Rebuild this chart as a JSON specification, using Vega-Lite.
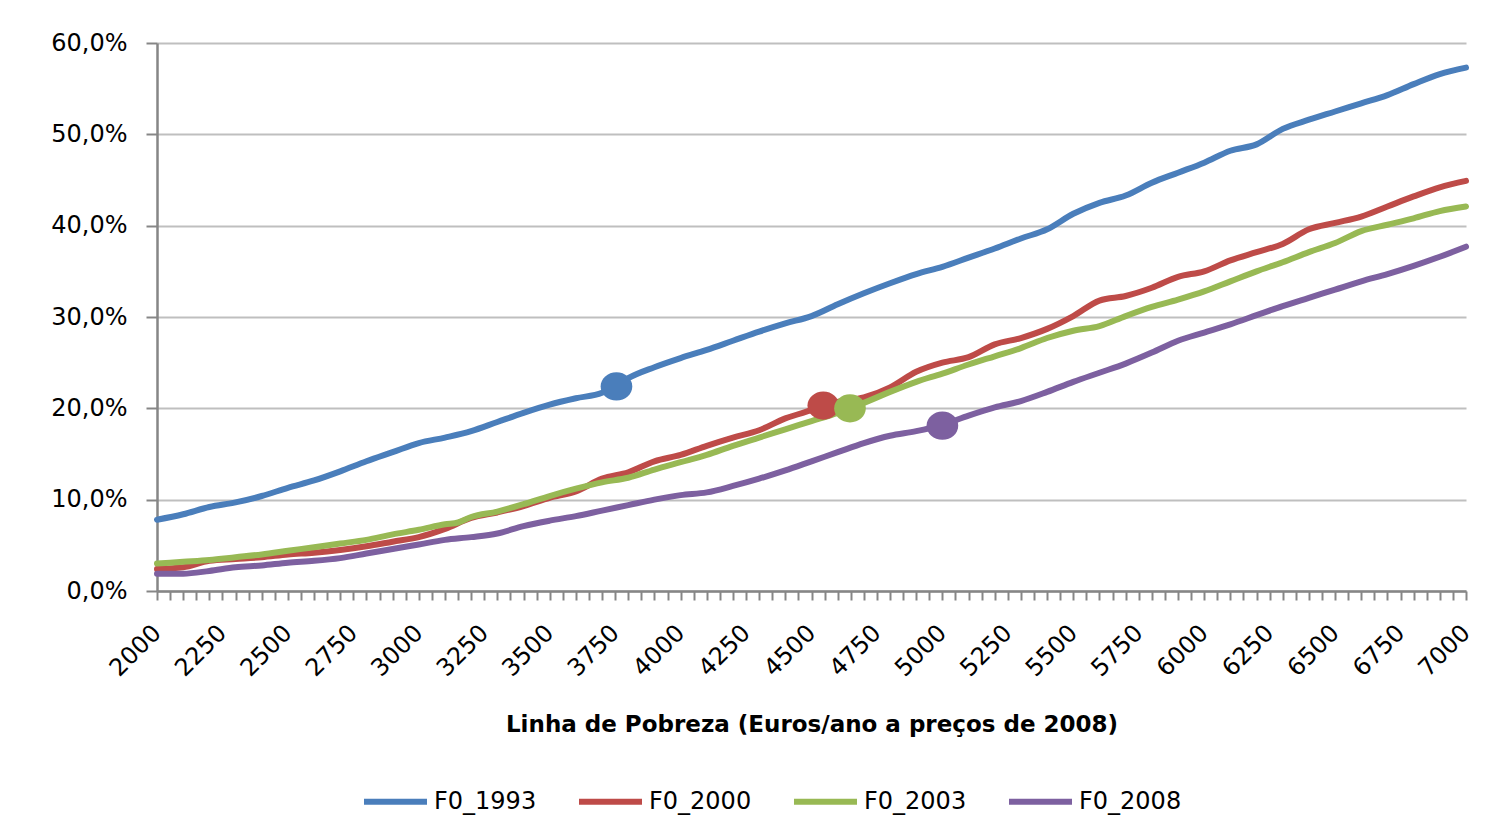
{
  "$schema": "https://vega.github.io/schema/vega-lite/v6.json",
  "width": 1309,
  "height": 548,
  "autosize": "none",
  "padding": {"left": 157, "top": 43, "right": 42, "bottom": 249},
  "background": "white",
  "config": {
    "view": {"stroke": null},
    "font": "DejaVu Sans"
  },
  "datasets": {
    "curvas": [
      {"serie": "F0_1993", "linha": 2000, "taxa": 0.078},
      {"serie": "F0_1993", "linha": 2100, "taxa": 0.084},
      {"serie": "F0_1993", "linha": 2200, "taxa": 0.092},
      {"serie": "F0_1993", "linha": 2300, "taxa": 0.097},
      {"serie": "F0_1993", "linha": 2400, "taxa": 0.104},
      {"serie": "F0_1993", "linha": 2500, "taxa": 0.113},
      {"serie": "F0_1993", "linha": 2600, "taxa": 0.121},
      {"serie": "F0_1993", "linha": 2700, "taxa": 0.131},
      {"serie": "F0_1993", "linha": 2800, "taxa": 0.142},
      {"serie": "F0_1993", "linha": 2900, "taxa": 0.152},
      {"serie": "F0_1993", "linha": 3000, "taxa": 0.162},
      {"serie": "F0_1993", "linha": 3100, "taxa": 0.168},
      {"serie": "F0_1993", "linha": 3200, "taxa": 0.175},
      {"serie": "F0_1993", "linha": 3300, "taxa": 0.185},
      {"serie": "F0_1993", "linha": 3400, "taxa": 0.195},
      {"serie": "F0_1993", "linha": 3500, "taxa": 0.204},
      {"serie": "F0_1993", "linha": 3600, "taxa": 0.211},
      {"serie": "F0_1993", "linha": 3700, "taxa": 0.217},
      {"serie": "F0_1993", "linha": 3750, "taxa": 0.224},
      {"serie": "F0_1993", "linha": 3800, "taxa": 0.233},
      {"serie": "F0_1993", "linha": 3900, "taxa": 0.245},
      {"serie": "F0_1993", "linha": 4000, "taxa": 0.255},
      {"serie": "F0_1993", "linha": 4100, "taxa": 0.264},
      {"serie": "F0_1993", "linha": 4200, "taxa": 0.274},
      {"serie": "F0_1993", "linha": 4300, "taxa": 0.284},
      {"serie": "F0_1993", "linha": 4400, "taxa": 0.293},
      {"serie": "F0_1993", "linha": 4500, "taxa": 0.301},
      {"serie": "F0_1993", "linha": 4600, "taxa": 0.314},
      {"serie": "F0_1993", "linha": 4700, "taxa": 0.326},
      {"serie": "F0_1993", "linha": 4800, "taxa": 0.337},
      {"serie": "F0_1993", "linha": 4900, "taxa": 0.347},
      {"serie": "F0_1993", "linha": 5000, "taxa": 0.355},
      {"serie": "F0_1993", "linha": 5100, "taxa": 0.365},
      {"serie": "F0_1993", "linha": 5200, "taxa": 0.375},
      {"serie": "F0_1993", "linha": 5300, "taxa": 0.386},
      {"serie": "F0_1993", "linha": 5400, "taxa": 0.396},
      {"serie": "F0_1993", "linha": 5500, "taxa": 0.413},
      {"serie": "F0_1993", "linha": 5600, "taxa": 0.425},
      {"serie": "F0_1993", "linha": 5700, "taxa": 0.433},
      {"serie": "F0_1993", "linha": 5800, "taxa": 0.447},
      {"serie": "F0_1993", "linha": 5900, "taxa": 0.458},
      {"serie": "F0_1993", "linha": 6000, "taxa": 0.469},
      {"serie": "F0_1993", "linha": 6100, "taxa": 0.482},
      {"serie": "F0_1993", "linha": 6200, "taxa": 0.489},
      {"serie": "F0_1993", "linha": 6300, "taxa": 0.506},
      {"serie": "F0_1993", "linha": 6400, "taxa": 0.516},
      {"serie": "F0_1993", "linha": 6500, "taxa": 0.525},
      {"serie": "F0_1993", "linha": 6600, "taxa": 0.534},
      {"serie": "F0_1993", "linha": 6700, "taxa": 0.543},
      {"serie": "F0_1993", "linha": 6800, "taxa": 0.555},
      {"serie": "F0_1993", "linha": 6900, "taxa": 0.566},
      {"serie": "F0_1993", "linha": 7000, "taxa": 0.573},

      {"serie": "F0_2000", "linha": 2000, "taxa": 0.024},
      {"serie": "F0_2000", "linha": 2100, "taxa": 0.026},
      {"serie": "F0_2000", "linha": 2200, "taxa": 0.033},
      {"serie": "F0_2000", "linha": 2300, "taxa": 0.035},
      {"serie": "F0_2000", "linha": 2400, "taxa": 0.037},
      {"serie": "F0_2000", "linha": 2500, "taxa": 0.040},
      {"serie": "F0_2000", "linha": 2600, "taxa": 0.042},
      {"serie": "F0_2000", "linha": 2700, "taxa": 0.045},
      {"serie": "F0_2000", "linha": 2800, "taxa": 0.049},
      {"serie": "F0_2000", "linha": 2900, "taxa": 0.054},
      {"serie": "F0_2000", "linha": 3000, "taxa": 0.059},
      {"serie": "F0_2000", "linha": 3100, "taxa": 0.068},
      {"serie": "F0_2000", "linha": 3200, "taxa": 0.080},
      {"serie": "F0_2000", "linha": 3300, "taxa": 0.086},
      {"serie": "F0_2000", "linha": 3400, "taxa": 0.093},
      {"serie": "F0_2000", "linha": 3500, "taxa": 0.102},
      {"serie": "F0_2000", "linha": 3600, "taxa": 0.109},
      {"serie": "F0_2000", "linha": 3700, "taxa": 0.123},
      {"serie": "F0_2000", "linha": 3800, "taxa": 0.130},
      {"serie": "F0_2000", "linha": 3900, "taxa": 0.142},
      {"serie": "F0_2000", "linha": 4000, "taxa": 0.149},
      {"serie": "F0_2000", "linha": 4100, "taxa": 0.159},
      {"serie": "F0_2000", "linha": 4200, "taxa": 0.168},
      {"serie": "F0_2000", "linha": 4300, "taxa": 0.176},
      {"serie": "F0_2000", "linha": 4400, "taxa": 0.189},
      {"serie": "F0_2000", "linha": 4500, "taxa": 0.198},
      {"serie": "F0_2000", "linha": 4600, "taxa": 0.207},
      {"serie": "F0_2000", "linha": 4700, "taxa": 0.212},
      {"serie": "F0_2000", "linha": 4800, "taxa": 0.223},
      {"serie": "F0_2000", "linha": 4900, "taxa": 0.240},
      {"serie": "F0_2000", "linha": 5000, "taxa": 0.250},
      {"serie": "F0_2000", "linha": 5100, "taxa": 0.256},
      {"serie": "F0_2000", "linha": 5200, "taxa": 0.270},
      {"serie": "F0_2000", "linha": 5300, "taxa": 0.277},
      {"serie": "F0_2000", "linha": 5400, "taxa": 0.287},
      {"serie": "F0_2000", "linha": 5500, "taxa": 0.301},
      {"serie": "F0_2000", "linha": 5600, "taxa": 0.318},
      {"serie": "F0_2000", "linha": 5700, "taxa": 0.323},
      {"serie": "F0_2000", "linha": 5800, "taxa": 0.332},
      {"serie": "F0_2000", "linha": 5900, "taxa": 0.344},
      {"serie": "F0_2000", "linha": 6000, "taxa": 0.350},
      {"serie": "F0_2000", "linha": 6100, "taxa": 0.362},
      {"serie": "F0_2000", "linha": 6200, "taxa": 0.371},
      {"serie": "F0_2000", "linha": 6300, "taxa": 0.380},
      {"serie": "F0_2000", "linha": 6400, "taxa": 0.396},
      {"serie": "F0_2000", "linha": 6500, "taxa": 0.403},
      {"serie": "F0_2000", "linha": 6600, "taxa": 0.410},
      {"serie": "F0_2000", "linha": 6700, "taxa": 0.421},
      {"serie": "F0_2000", "linha": 6800, "taxa": 0.432},
      {"serie": "F0_2000", "linha": 6900, "taxa": 0.442},
      {"serie": "F0_2000", "linha": 7000, "taxa": 0.449},

      {"serie": "F0_2003", "linha": 2000, "taxa": 0.030},
      {"serie": "F0_2003", "linha": 2100, "taxa": 0.032},
      {"serie": "F0_2003", "linha": 2200, "taxa": 0.034},
      {"serie": "F0_2003", "linha": 2300, "taxa": 0.037},
      {"serie": "F0_2003", "linha": 2400, "taxa": 0.040},
      {"serie": "F0_2003", "linha": 2500, "taxa": 0.044},
      {"serie": "F0_2003", "linha": 2600, "taxa": 0.048},
      {"serie": "F0_2003", "linha": 2700, "taxa": 0.052},
      {"serie": "F0_2003", "linha": 2800, "taxa": 0.056},
      {"serie": "F0_2003", "linha": 2900, "taxa": 0.062},
      {"serie": "F0_2003", "linha": 3000, "taxa": 0.067},
      {"serie": "F0_2003", "linha": 3100, "taxa": 0.073},
      {"serie": "F0_2003", "linha": 3150, "taxa": 0.075},
      {"serie": "F0_2003", "linha": 3200, "taxa": 0.081},
      {"serie": "F0_2003", "linha": 3300, "taxa": 0.087},
      {"serie": "F0_2003", "linha": 3400, "taxa": 0.095},
      {"serie": "F0_2003", "linha": 3500, "taxa": 0.104},
      {"serie": "F0_2003", "linha": 3600, "taxa": 0.112},
      {"serie": "F0_2003", "linha": 3700, "taxa": 0.119},
      {"serie": "F0_2003", "linha": 3800, "taxa": 0.124},
      {"serie": "F0_2003", "linha": 3900, "taxa": 0.133},
      {"serie": "F0_2003", "linha": 4000, "taxa": 0.141},
      {"serie": "F0_2003", "linha": 4100, "taxa": 0.149},
      {"serie": "F0_2003", "linha": 4200, "taxa": 0.159},
      {"serie": "F0_2003", "linha": 4300, "taxa": 0.168},
      {"serie": "F0_2003", "linha": 4400, "taxa": 0.177},
      {"serie": "F0_2003", "linha": 4500, "taxa": 0.186},
      {"serie": "F0_2003", "linha": 4600, "taxa": 0.195},
      {"serie": "F0_2003", "linha": 4700, "taxa": 0.206},
      {"serie": "F0_2003", "linha": 4800, "taxa": 0.218},
      {"serie": "F0_2003", "linha": 4900, "taxa": 0.229},
      {"serie": "F0_2003", "linha": 5000, "taxa": 0.238},
      {"serie": "F0_2003", "linha": 5100, "taxa": 0.248},
      {"serie": "F0_2003", "linha": 5200, "taxa": 0.257},
      {"serie": "F0_2003", "linha": 5300, "taxa": 0.266},
      {"serie": "F0_2003", "linha": 5400, "taxa": 0.277},
      {"serie": "F0_2003", "linha": 5500, "taxa": 0.285},
      {"serie": "F0_2003", "linha": 5600, "taxa": 0.290},
      {"serie": "F0_2003", "linha": 5700, "taxa": 0.301},
      {"serie": "F0_2003", "linha": 5800, "taxa": 0.311},
      {"serie": "F0_2003", "linha": 5900, "taxa": 0.319},
      {"serie": "F0_2003", "linha": 6000, "taxa": 0.328},
      {"serie": "F0_2003", "linha": 6100, "taxa": 0.339},
      {"serie": "F0_2003", "linha": 6200, "taxa": 0.350},
      {"serie": "F0_2003", "linha": 6300, "taxa": 0.360},
      {"serie": "F0_2003", "linha": 6400, "taxa": 0.371},
      {"serie": "F0_2003", "linha": 6500, "taxa": 0.381},
      {"serie": "F0_2003", "linha": 6600, "taxa": 0.394},
      {"serie": "F0_2003", "linha": 6700, "taxa": 0.401},
      {"serie": "F0_2003", "linha": 6800, "taxa": 0.408},
      {"serie": "F0_2003", "linha": 6900, "taxa": 0.416},
      {"serie": "F0_2003", "linha": 7000, "taxa": 0.421},

      {"serie": "F0_2008", "linha": 2000, "taxa": 0.019},
      {"serie": "F0_2008", "linha": 2100, "taxa": 0.019},
      {"serie": "F0_2008", "linha": 2200, "taxa": 0.022},
      {"serie": "F0_2008", "linha": 2300, "taxa": 0.026},
      {"serie": "F0_2008", "linha": 2400, "taxa": 0.028},
      {"serie": "F0_2008", "linha": 2500, "taxa": 0.031},
      {"serie": "F0_2008", "linha": 2600, "taxa": 0.033},
      {"serie": "F0_2008", "linha": 2700, "taxa": 0.036},
      {"serie": "F0_2008", "linha": 2800, "taxa": 0.041},
      {"serie": "F0_2008", "linha": 2900, "taxa": 0.046},
      {"serie": "F0_2008", "linha": 3000, "taxa": 0.051},
      {"serie": "F0_2008", "linha": 3100, "taxa": 0.056},
      {"serie": "F0_2008", "linha": 3200, "taxa": 0.059},
      {"serie": "F0_2008", "linha": 3300, "taxa": 0.063},
      {"serie": "F0_2008", "linha": 3400, "taxa": 0.071},
      {"serie": "F0_2008", "linha": 3500, "taxa": 0.077},
      {"serie": "F0_2008", "linha": 3600, "taxa": 0.082},
      {"serie": "F0_2008", "linha": 3700, "taxa": 0.088},
      {"serie": "F0_2008", "linha": 3800, "taxa": 0.094},
      {"serie": "F0_2008", "linha": 3900, "taxa": 0.100},
      {"serie": "F0_2008", "linha": 4000, "taxa": 0.105},
      {"serie": "F0_2008", "linha": 4100, "taxa": 0.108},
      {"serie": "F0_2008", "linha": 4200, "taxa": 0.115},
      {"serie": "F0_2008", "linha": 4300, "taxa": 0.123},
      {"serie": "F0_2008", "linha": 4400, "taxa": 0.132},
      {"serie": "F0_2008", "linha": 4500, "taxa": 0.142},
      {"serie": "F0_2008", "linha": 4600, "taxa": 0.152},
      {"serie": "F0_2008", "linha": 4700, "taxa": 0.162},
      {"serie": "F0_2008", "linha": 4800, "taxa": 0.170},
      {"serie": "F0_2008", "linha": 4900, "taxa": 0.175},
      {"serie": "F0_2008", "linha": 5000, "taxa": 0.182},
      {"serie": "F0_2008", "linha": 5100, "taxa": 0.192},
      {"serie": "F0_2008", "linha": 5200, "taxa": 0.201},
      {"serie": "F0_2008", "linha": 5300, "taxa": 0.208},
      {"serie": "F0_2008", "linha": 5400, "taxa": 0.218},
      {"serie": "F0_2008", "linha": 5500, "taxa": 0.229},
      {"serie": "F0_2008", "linha": 5600, "taxa": 0.239},
      {"serie": "F0_2008", "linha": 5700, "taxa": 0.249},
      {"serie": "F0_2008", "linha": 5800, "taxa": 0.261},
      {"serie": "F0_2008", "linha": 5900, "taxa": 0.274},
      {"serie": "F0_2008", "linha": 6000, "taxa": 0.283},
      {"serie": "F0_2008", "linha": 6100, "taxa": 0.292},
      {"serie": "F0_2008", "linha": 6200, "taxa": 0.302},
      {"serie": "F0_2008", "linha": 6300, "taxa": 0.312},
      {"serie": "F0_2008", "linha": 6400, "taxa": 0.321},
      {"serie": "F0_2008", "linha": 6500, "taxa": 0.330},
      {"serie": "F0_2008", "linha": 6600, "taxa": 0.339},
      {"serie": "F0_2008", "linha": 6700, "taxa": 0.347},
      {"serie": "F0_2008", "linha": 6800, "taxa": 0.356},
      {"serie": "F0_2008", "linha": 6900, "taxa": 0.366},
      {"serie": "F0_2008", "linha": 7000, "taxa": 0.377}
    ],
    "marcadores": [
      {"serie": "F0_1993", "linha": 3755, "taxa": 0.224},
      {"serie": "F0_2000", "linha": 4545, "taxa": 0.203},
      {"serie": "F0_2003", "linha": 4647, "taxa": 0.200},
      {"serie": "F0_2008", "linha": 5000, "taxa": 0.181}
    ]
  },
  "encoding": {
    "x": {
      "field": "linha",
      "type": "quantitative",
      "scale": {"domain": [2000, 7000], "nice": false, "zero": false},
      "axis": {
        "title": "Linha de Pobreza (Euros/ano  a preços de 2008)",
        "titleFont": "DejaVu Sans",
        "titleFontSize": 23,
        "titleFontWeight": "bold",
        "titleColor": "#000000",
        "titlePadding": 33,
        "grid": false,
        "tickCount": 100,
        "labelExpr": "datum.value % 250 === 0 ? toString(datum.value) : ''",
        "labelOverlap": false,
        "labelFlush": false,
        "labelAngle": -45,
        "labelAlign": "right",
        "labelBaseline": "middle",
        "labelFontSize": 24,
        "labelColor": "#000000",
        "labelPadding": 29,
        "domainColor": "#868686",
        "domainWidth": 2.5,
        "tickColor": "#868686",
        "tickWidth": 2,
        "tickSize": 9
      }
    },
    "y": {
      "field": "taxa",
      "type": "quantitative",
      "scale": {"domain": [0, 0.6], "nice": false},
      "axis": {
        "title": null,
        "values": [0, 0.1, 0.2, 0.3, 0.4, 0.5, 0.6],
        "format": ".1%",
        "labelExpr": "replace(datum.label, '.', ',')",
        "labelFontSize": 24,
        "labelColor": "#000000",
        "labelPadding": 19,
        "grid": true,
        "gridColor": "#bfbfbf",
        "gridWidth": 2,
        "domainColor": "#868686",
        "domainWidth": 2.5,
        "tickColor": "#868686",
        "tickWidth": 2,
        "tickSize": 11
      }
    },
    "color": {
      "field": "serie",
      "type": "nominal",
      "scale": {
        "domain": ["F0_1993", "F0_2000", "F0_2003", "F0_2008"],
        "range": ["#4a7ebb", "#be4b48", "#98b954", "#7d60a0"]
      }
    }
  },
  "layer": [
    {
      "data": {"name": "curvas"},
      "mark": {
        "type": "line",
        "interpolate": "monotone",
        "strokeWidth": 6,
        "strokeCap": "round",
        "strokeJoin": "round"
      },
      "encoding": {
        "color": {
          "field": "serie",
          "type": "nominal",
          "legend": {
            "title": null,
            "orient": "none",
            "direction": "horizontal",
            "legendX": 204,
            "legendY": 724,
            "symbolType": "stroke",
            "symbolSize": 3969,
            "symbolStrokeWidth": 6,
            "labelFont": "DejaVu Sans",
            "labelFontSize": 24,
            "labelColor": "#000000",
            "labelOffset": 4,
            "columnPadding": 30
          }
        }
      }
    },
    {
      "data": {"name": "marcadores"},
      "mark": {
        "type": "point",
        "filled": true,
        "opacity": 1,
        "size": 800,
        "shape": "M-1.12,0A1.12,1,0,1,1,1.12,0A1.12,1,0,1,1,-1.12,0Z"
      },
      "encoding": {
        "color": {"field": "serie", "type": "nominal", "legend": null}
      }
    }
  ]
}
